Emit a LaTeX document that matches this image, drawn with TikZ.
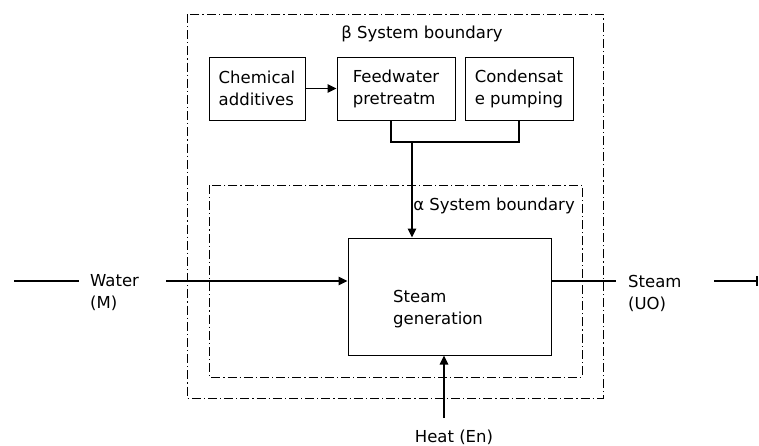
\documentclass[tikz,border=0pt]{standalone}
\usepackage{fontspec}
\setmainfont{DejaVu Sans}
\usetikzlibrary{arrows.meta}
\begin{document}
\begin{tikzpicture}[x=1pt,y=-1pt,
  every node/.style={font=\fontsize{16.5}{22}\selectfont, inner sep=0pt},
  box/.style={draw, line width=1pt, align=left},
  boundary/.style={line width=0.9pt, dash pattern=on 9pt off 3pt on 1.2pt off 3pt},
  flow/.style={line width=1.6pt},
  flowarrow/.style={flow, -{Triangle[length=9pt,width=8.5pt]}},
  lbl/.style={align=left, anchor=west}
]
\useasboundingbox (0,0) rectangle (759,445);

% system boundaries
\draw[boundary] (187,14) rectangle (603,398);
\draw[boundary] (209,185) rectangle (582,377);
\node (beta) at (422,34) {β System boundary};
\node (alpha) at (494,206) {α System boundary};

% upstream units
\node[box, minimum width=96pt, minimum height=63pt] (ca) at (257,88.5) {Chemical\\additives};
\node[box, minimum width=118pt, minimum height=63pt] (fw) at (396,88.5) {Feedwater\\pretreatm};
\node[box, minimum width=108pt, minimum height=63pt] (cp) at (519,88.5) {Condensat\\e pumping};

% steam generator
\node[box, minimum width=203pt, minimum height=117pt] (sg) at (449.5,296.5) {};
\node[lbl] (sgt) at (393,309) {Steam\\generation};

% connectors between units
\draw[flowarrow] (ca.east) -- (fw.west);
\coordinate (j) at (412,142);
\draw[flow] ([xshift=-5pt]fw.south) |- (j) -| (cp.south);
\draw[flowarrow] (j) -- (sg.north -| j);

% water inlet
\coordinate (w0) at (14,281);
\coordinate (w1) at (79,281);
\coordinate (w2) at (166,281);
\node[lbl] (water) at (90,293) {Water\\(M)};
\draw[flow] (w0) -- (w1);
\draw[flowarrow] (w2) -- (sg.west |- w2);

% steam outlet
\coordinate (s1) at (616,281);
\coordinate (s2) at (714,281);
\coordinate (s3) at (758,281);
\node[lbl] (steam) at (628,293) {Steam\\(UO)};
\draw[flow] (sg.east |- s1) -- (s1);
\draw[flow, -{Bar[width=10pt]}] (s2) -- (s3);

% heat input
\coordinate (h0) at (444,418);
\node (heat) at (454,437) {Heat (En)};
\draw[flowarrow] (h0) -- (sg.south -| h0);
\end{tikzpicture}
\end{document}
